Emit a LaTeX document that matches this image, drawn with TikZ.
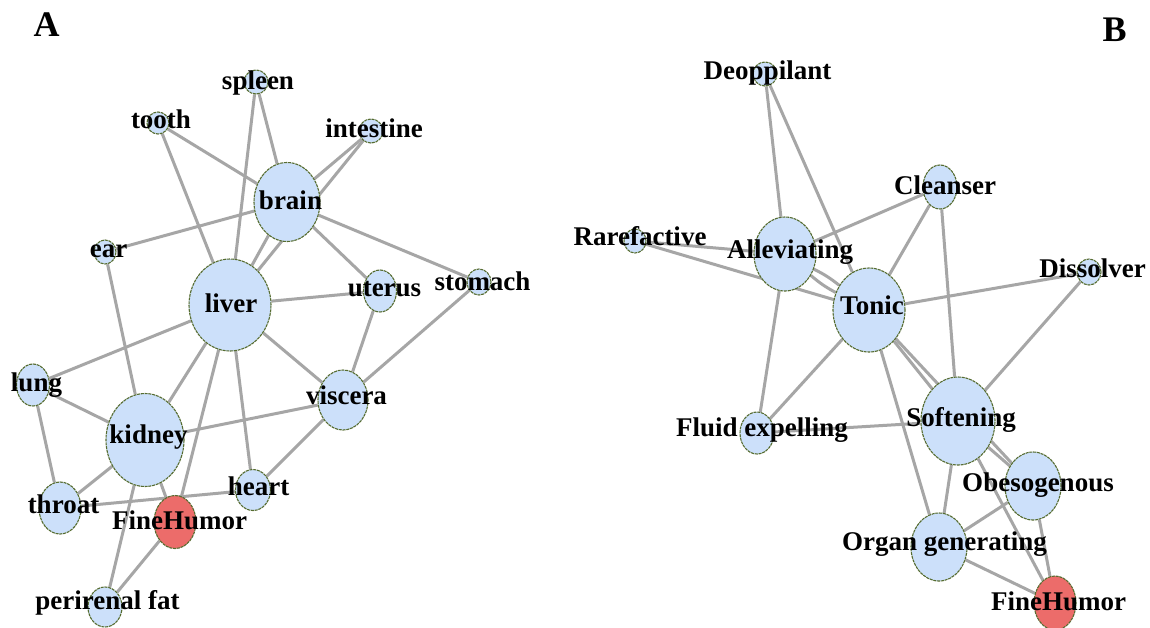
\documentclass[tikz,border=0pt]{standalone}
\usepackage{fontspec}
\setmainfont{Liberation Serif}
\usetikzlibrary{shapes.geometric}
\definecolor{nfill}{RGB}{204,224,250}
\definecolor{nbord}{RGB}{86,108,48}
\definecolor{hfill}{RGB}{236,108,106}
\definecolor{egray}{RGB}{166,166,166}
\pgfdeclarelayer{bglayer}
\pgfdeclarelayer{edgelayer}
\pgfsetlayers{bglayer,edgelayer,main}
\tikzset{
  vn/.style={ellipse, draw=nbord, line width=1.1pt, dash pattern=on 3pt off 0.8pt, fill=nfill, inner sep=0pt},
  hn/.style={vn, fill=hfill},
  sz/.style 2 args={minimum width=#1pt, minimum height=#2pt},
  lab/.style={font=\bfseries\fontsize{27}{30}\selectfont, inner sep=0pt, anchor=base},
  ed/.style={draw=egray, line width=3pt},
  panel/.style={font=\bfseries\fontsize{36}{40}\selectfont, inner sep=0pt}
}
\begin{document}
\begin{tikzpicture}[x=1pt,y=-1pt]
\begin{pgfonlayer}{bglayer}
\fill[white] (0,0) rectangle (1150,627);
\end{pgfonlayer}
\useasboundingbox (0,0) rectangle (1150,627);

% panel letters
\node[panel] (pA) at (46.5,24.5) {A};
\node[panel] (pB) at (1114.5,29.5) {B};

% ---------- Panel A nodes ----------
\node[vn, sz={24}{24}] (spleen) at (256,82) {};
\node[vn, sz={22}{22}] (tooth) at (158,123) {};
\node[vn, sz={24}{24}] (intestine) at (371,131) {};
\node[vn, sz={66}{79}] (brain) at (287,202) {};
\node[vn, sz={22}{24}] (ear) at (105,252) {};
\node[vn, sz={82}{92}] (liver) at (230,305) {};
\node[vn, sz={33}{42}] (uterus) at (380,291) {};
\node[vn, sz={24}{26}] (stomach) at (479,282) {};
\node[vn, sz={33}{42}] (lung) at (33,385) {};
\node[vn, sz={78}{93}] (kidney) at (145,440) {};
\node[vn, sz={50}{60}] (viscera) at (343,400) {};
\node[vn, sz={42}{52}] (throat) at (60,508) {};
\node[vn, sz={35}{41}] (heart) at (253,490) {};
\node[hn, sz={42}{53}] (fhA) at (175,522) {};
\node[vn, sz={34}{40}] (perirenal) at (105,607) {};

% ---------- Panel B nodes ----------
\node[vn, sz={24}{24}] (deop) at (765,74) {};
\node[vn, sz={22}{24}] (raref) at (635,241) {};
\node[vn, sz={62}{74}] (allev) at (785,254) {};
\node[vn, sz={72}{84}] (tonic) at (869,310) {};
\node[vn, sz={34}{44}] (cleanser) at (940,187) {};
\node[vn, sz={24}{26}] (dissolver) at (1089,272) {};
\node[vn, sz={34}{42}] (fluid) at (757,433) {};
\node[vn, sz={74}{88}] (softening) at (958,421) {};
\node[vn, sz={56}{68}] (obeso) at (1033,486) {};
\node[vn, sz={56}{68}] (organ) at (939,547) {};
\node[hn, sz={42}{54}] (fhB) at (1055,603) {};

% ---------- edges ----------
\begin{pgfonlayer}{edgelayer}
\draw[ed] (spleen) -- (brain);
\draw[ed] (spleen) -- (liver);
\draw[ed] (tooth) -- (brain);
\draw[ed] (tooth) -- (liver);
\draw[ed] (intestine) -- (brain);
\draw[ed] (intestine.center) -- (liver);
\draw[ed] (brain) -- (liver);
\draw[ed] (ear) -- (brain);
\draw[ed] (ear) -- (kidney);
\draw[ed] (brain) -- (uterus);
\draw[ed] (brain) -- (stomach);
\draw[ed] (liver) -- (uterus);
\draw[ed] (uterus) -- (viscera);
\draw[ed] (stomach) -- (viscera);
\draw[ed] (liver) -- (viscera);
\draw[ed] (liver) -- (lung);
\draw[ed] (lung) -- (kidney);
\draw[ed] (lung) -- (throat);
\draw[ed] (kidney) -- (viscera);
\draw[ed] (kidney) -- (throat);
\draw[ed] (kidney) -- (liver);
\draw[ed] (liver) -- (fhA);
\draw[ed] (liver) -- (heart);
\draw[ed] (kidney) -- (fhA);
\draw[ed] (throat) -- (heart);
\draw[ed] (viscera) -- (heart);
\draw[ed] (kidney) -- (perirenal);
\draw[ed] (fhA) -- (perirenal);
% panel B
\draw[ed] (deop) -- (allev);
\draw[ed] (deop) -- (tonic);
\draw[ed] (raref) -- (allev);
\draw[ed] (raref.center) -- (tonic.center);
\draw[ed] (allev) -- (cleanser);
\draw[ed] (allev) to[bend left=6] (tonic);
\draw[ed] (allev) to[bend right=6] (tonic);
\draw[ed] (allev) -- (fluid);
\draw[ed] (tonic) -- (cleanser);
\draw[ed] (tonic) -- (dissolver);
\draw[ed] (cleanser) -- (softening);
\draw[ed] (dissolver) -- (softening);
\draw[ed] (tonic) -- (fluid);
\draw[ed] (fluid) -- (softening);
\draw[ed] (tonic) -- (organ);
\draw[ed] (softening) -- (organ);
\draw[ed] (softening) -- (obeso);
\draw[ed] (tonic.center) -- (obeso);
\draw[ed] (tonic) -- (softening);
\draw[ed] (softening) -- (fhB);
\draw[ed] (organ) -- (obeso);
\draw[ed] (organ) -- (fhB);
\draw[ed] (obeso) -- (fhB);
\end{pgfonlayer}

% ---------- labels ----------
\node[lab] (tspleen) at (258,89) {spleen};
\node[lab] (ttooth) at (161,128) {tooth};
\node[lab] (tintestine) at (374,137) {intestine};
\node[lab] (tbrain) at (290.5,209) {brain};
\node[lab] (tear) at (108.5,257) {ear};
\node[lab] (tliver) at (231,312) {liver};
\node[lab] (tuterus) at (384.5,296) {uterus};
\node[lab] (tstomach) at (482.5,290) {stomach};
\node[lab] (tlung) at (36.5,391.5) {lung};
\node[lab] (tkidney) at (148.5,443) {kidney};
\node[lab] (tviscera) at (346.5,404) {viscera};
\node[lab] (tthroat) at (63.5,513) {throat};
\node[lab] (theart) at (258.5,495) {heart};
\node[lab] (tfhA) at (179.5,529) {FineHumor};
\node[lab] (tperirenal) at (107.5,609) {perirenal fat};

\node[lab] (tdeop) at (767.5,79) {Deoppilant};
\node[lab] (traref) at (640,245) {Rarefactive};
\node[lab] (tallev) at (790,258) {Alleviating};
\node[lab] (ttonic) at (872,314.5) {Tonic};
\node[lab] (tcleanser) at (945,194) {Cleanser};
\node[lab] (tdissolver) at (1092.5,277) {Dissolver};
\node[lab] (tfluid) at (762,436) {Fluid expelling};
\node[lab] (tsoftening) at (961,426) {Softening};
\node[lab] (tobeso) at (1038,491) {Obesogenous};
\node[lab] (torgan) at (944.5,550) {Organ generating};
\node[lab] (tfhB) at (1058.5,610.5) {FineHumor};
\end{tikzpicture}
\end{document}
